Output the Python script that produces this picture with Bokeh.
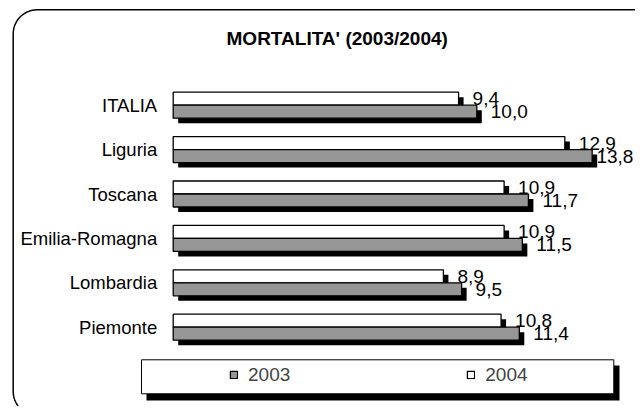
import numpy as np
from bokeh.plotting import figure
from bokeh.models import ColumnDataSource, Range1d, BoxAnnotation, Legend, LegendItem
from bokeh.transform import dodge
from bokeh.core.properties import value
from bokeh.embed import file_html
from bokeh.resources import INLINE

# ---- data -------------------------------------------------------------
TITLE = "MORTALITA' (2003/2004)"
CATEGORIES = ["ITALIA", "Liguria", "Toscana", "Emilia-Romagna", "Lombardia", "Piemonte"]
SERIES = ["2003", "2004"]
VALUES_2003 = [10.0, 13.8, 11.7, 11.5, 9.5, 11.4]
VALUES_2004 = [9.4, 12.9, 10.9, 10.9, 8.9, 10.8]

# ---- layout constants (pixels, canvas coordinates) ---------------------
W, H = 635, 406
ZERO_PX = 172.7        # canvas x of value 0
PX_PER_UNIT = 30.36    # pixels per unit of value
ROW0_PX = 104.7        # canvas y of first category centre
ROW_PITCH = 44.4       # pixels between categories
BAR_PX = 13
SHADOW_DX, SHADOW_DY = 5, 5
CAT_GAP = 16
VAL_GAP = 14
VAL_FONT_PX = 19
FONT = "Liberation Sans"
GRAY = "#969696"

p = figure(width=W, height=H, output_backend="svg", toolbar_location=None,
           x_range=Range1d(-ZERO_PX / PX_PER_UNIT, (W - ZERO_PX) / PX_PER_UNIT),
           y_range=Range1d((H - ROW0_PX) / ROW_PITCH, -ROW0_PX / ROW_PITCH),
           x_axis_location=None, y_axis_location=None, min_border=0,
           outline_line_color=None, background_fill_color="white",
           border_fill_color="white")
p.grid.grid_line_color = None
p.grid.visible = False
# a pixel coordinate system for decorations (y grows downward)
p.extra_x_ranges = {"px": Range1d(0, W)}
p.extra_y_ranges = {"px": Range1d(H, 0)}

fmt = lambda v: f"{v:.1f}".replace(".", ",")

# value-label anchor: just past the bar end, kept inside the canvas
max_label_x = (W - 2 - 1.95 * VAL_FONT_PX - ZERO_PX) / PX_PER_UNIT
def label_x(vals):
    return [min(v + VAL_GAP / PX_PER_UNIT, max_label_x) for v in vals]

src = ColumnDataSource(dict(
    cat=CATEGORIES,
    row=list(range(len(CATEGORIES))),
    v03=VALUES_2003, v04=VALUES_2004,
    lx03=label_x(VALUES_2003), lx04=label_x(VALUES_2004),
    lab03=[fmt(v) for v in VALUES_2003],
    lab04=[fmt(v) for v in VALUES_2004],
))

half = BAR_PX / 2 / ROW_PITCH
bh = BAR_PX / ROW_PITCH
dx = SHADOW_DX / PX_PER_UNIT
dy = SHADOW_DY / ROW_PITCH

# outer rounded frame (runs off the right and bottom edges)
FL, FT, FR, FB, FRAD = 12.7, 9.3, 659, 415, 24
def rounded_rect(l, t, r, b, rad, n=16):
    xs, ys = [], []
    for cx, cy, a0 in ((l + rad, t + rad, 180), (r - rad, t + rad, 270),
                       (r - rad, b - rad, 0), (l + rad, b - rad, 90)):
        a = np.radians(np.linspace(a0, a0 + 90, n))
        xs += list(cx + rad * np.cos(a))
        ys += list(cy + rad * np.sin(a))
    return xs + xs[:1], ys + ys[:1]
fx, fy = rounded_rect(FL, FT, FR, FB, FRAD)
p.line(fx, fy, x_range_name="px", y_range_name="px", line_color="black",
       line_width=1.5)

# shadows
p.hbar(y=dodge("row", -half + dy), left=dx, right=dodge("v04", dx), height=bh,
       source=src, fill_color="black", line_color=None)
p.hbar(y=dodge("row", half + dy), left=dx, right=dodge("v03", dx), height=bh,
       source=src, fill_color="black", line_color=None)
# bars
r04 = p.hbar(y=dodge("row", -half), left=0, right="v04", height=bh, source=src,
             fill_color="white", line_color="black", line_width=1.3)
r03 = p.hbar(y=dodge("row", half), left=0, right="v03", height=bh, source=src,
             fill_color=GRAY, line_color="black", line_width=1.3)

# value labels
for col, lab, off in (("lx04", "lab04", -half), ("lx03", "lab03", half)):
    p.text(x=col, y=dodge("row", off), text=lab,
           source=src, text_font=value(FONT), text_font_size=f"{VAL_FONT_PX}px",
           text_baseline="middle", text_align="left", text_color="black")

# category labels
p.text(x=-CAT_GAP / PX_PER_UNIT, y="row", text="cat", source=src,
       text_font=value(FONT), text_font_size="18.5px", text_baseline="middle",
       text_align="right", text_color="black")

# title
p.text(x=[336.7], y=[38], text=[TITLE], x_range_name="px", y_range_name="px",
       text_font=value(FONT), text_font_size="19px", text_font_style="bold",
       text_baseline="middle", text_align="center", text_color="black")

# legend box + shadow
p.add_layout(BoxAnnotation(left=146, right=619, top=365, bottom=400,
                           x_range_name="px", y_range_name="px",
                           fill_color="black", fill_alpha=1, line_alpha=0))
p.add_layout(BoxAnnotation(left=141, right=613.3, top=359.3, bottom=393.3,
                           x_range_name="px", y_range_name="px",
                           fill_color="white", fill_alpha=1, line_color="black",
                           line_alpha=1, line_width=1))

legend = Legend(items=[LegendItem(label=SERIES[0], renderers=[r03]),
                       LegendItem(label=SERIES[1], renderers=[r04])],
                orientation="horizontal", location=(229, 20.5), padding=0,
                margin=0, spacing=176, glyph_width=9, glyph_height=9,
                label_standoff=10, label_text_font=FONT,
                label_text_font_size="19px", background_fill_alpha=0,
                border_line_alpha=0)
p.add_layout(legend)

open("out.html", "w").write(file_html(p, INLINE))
